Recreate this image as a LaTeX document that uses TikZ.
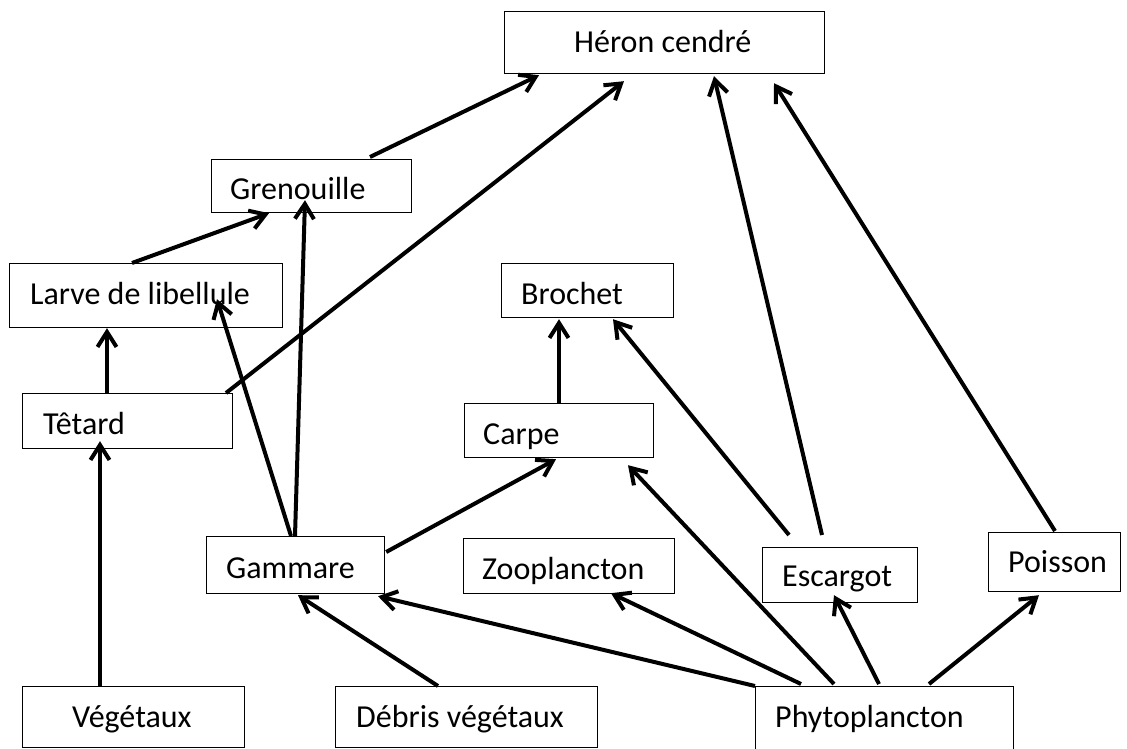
\documentclass[tikz,border=0pt]{standalone}
\usepackage{fontspec}
\setmainfont{Carlito}
\usetikzlibrary{arrows.meta}
\tikzset{
  box/.style={draw=black, line width=1.2pt, rectangle, inner sep=0pt, anchor=north west},
  lbl/.style={anchor=base west, inner sep=0pt, font=\fontsize{32}{38}\selectfont},
  arr/.style={line width=4pt, -{Straight Barb[length=15pt,width=19pt]}}
}
\begin{document}
\begin{tikzpicture}[x=1pt,y=-1pt]
\useasboundingbox (0,0) rectangle (1127,749);
% boxes
\node[box, minimum width=320pt, minimum height=62pt] (her) at (504,11) {};
\node[box, minimum width=200pt, minimum height=53pt] (gre) at (211,159) {};
\node[box, minimum width=273pt, minimum height=64pt] (lar) at (9,263) {};
\node[box, minimum width=210pt, minimum height=55pt] (tet) at (22,393) {};
\node[box, minimum width=172pt, minimum height=54pt] (bro) at (501,263) {};
\node[box, minimum width=189pt, minimum height=54pt] (car) at (464,403) {};
\node[box, minimum width=178pt, minimum height=57pt] (gam) at (206,536) {};
\node[box, minimum width=211pt, minimum height=55pt] (zoo) at (463,538) {};
\node[box, minimum width=155pt, minimum height=55pt] (esc) at (762,547) {};
\node[box, minimum width=132pt, minimum height=59pt] (poi) at (988,532) {};
\node[box, minimum width=222pt, minimum height=61pt] (veg) at (22,686) {};
\node[box, minimum width=262pt, minimum height=61pt] (deb) at (335,686) {};
\node[box, minimum width=258pt, minimum height=80pt] (phy) at (755,686) {};
% labels
\node[lbl] (herT) at (574,53) {Héron cendré};
\node[lbl] (greT) at (230,199) {Grenouille};
\node[lbl] (larT) at (30,304) {Larve de libellule};
\node[lbl] (tetT) at (43,434) {Têtard};
\node[lbl] (broT) at (521,304) {Brochet};
\node[lbl] (carT) at (483,444) {Carpe};
\node[lbl] (gamT) at (226,578) {Gammare};
\node[lbl] (zooT) at (482,579) {Zooplancton};
\node[lbl] (escT) at (782,586) {Escargot};
\node[lbl] (poiT) at (1008,572) {Poisson};
\node[lbl] (vegT) at (72,727) {Végétaux};
\node[lbl] (debT) at (356,727) {Débris végétaux};
\node[lbl] (phyT) at (775,727) {Phytoplancton};
% arrows
\draw[arr] ([xshift=159pt,yshift=2pt]gre.north west) -- ([xshift=35pt,yshift=-1pt]her.south west);
\draw[arr] ([xshift=204pt]tet.north west) -- ([xshift=120pt,yshift=-7pt]her.south west);
\draw[arr] ([xshift=60pt,yshift=12pt]esc.north west) -- ([xshift=210pt,yshift=-2pt]her.south west);
\draw[arr] ([xshift=67pt,yshift=1pt]poi.north west) -- ([xshift=270pt,yshift=-9pt]her.south west);
\draw[arr] ([xshift=123pt]lar.north west) -- ([xshift=58pt]gre.south west);
\draw[arr] ([xshift=89pt]gam.north west) -- ([xshift=94pt,yshift=13pt]gre.south west);
\draw[arr] ([xshift=85pt]tet.north west) -- ([xshift=98pt]lar.south west);
\draw[arr] ([xshift=85pt]gam.north west) -- ([xshift=208pt,yshift=29pt]lar.south west);
\draw[arr] ([xshift=78pt]veg.north west) -- ([xshift=78pt,yshift=8pt]tet.south west);
\draw[arr] ([xshift=95pt]car.north west) -- ([xshift=58pt,yshift=-1pt]bro.south west);
\draw[arr] ([xshift=27pt,yshift=12pt]esc.north west) -- ([xshift=112pt,yshift=-1pt]bro.south west);
\draw[arr] ([xshift=1pt,yshift=-16pt]gam.north east) -- ([xshift=92pt,yshift=-1pt]car.south west);
\draw[arr] ([xshift=79pt,yshift=2pt]phy.north west) -- ([xshift=164pt,yshift=-7pt]car.south west);
\draw[arr] ([xshift=103pt]deb.north west) -- ([xshift=92pt,yshift=-1pt]gam.south west);
\draw[arr] (phy.north west) -- ([xshift=172pt,yshift=-2pt]gam.south west);
\draw[arr] ([xshift=46pt,yshift=2pt]phy.north west) -- ([xshift=148pt,yshift=1pt]zoo.south west);
\draw[arr] ([xshift=124pt,yshift=2pt]phy.north west) -- ([xshift=72pt,yshift=8pt]esc.south west);
\draw[arr] ([xshift=174pt,yshift=2pt]phy.north west) -- ([xshift=51pt,yshift=-3pt]poi.south west);
\end{tikzpicture}
\end{document}
